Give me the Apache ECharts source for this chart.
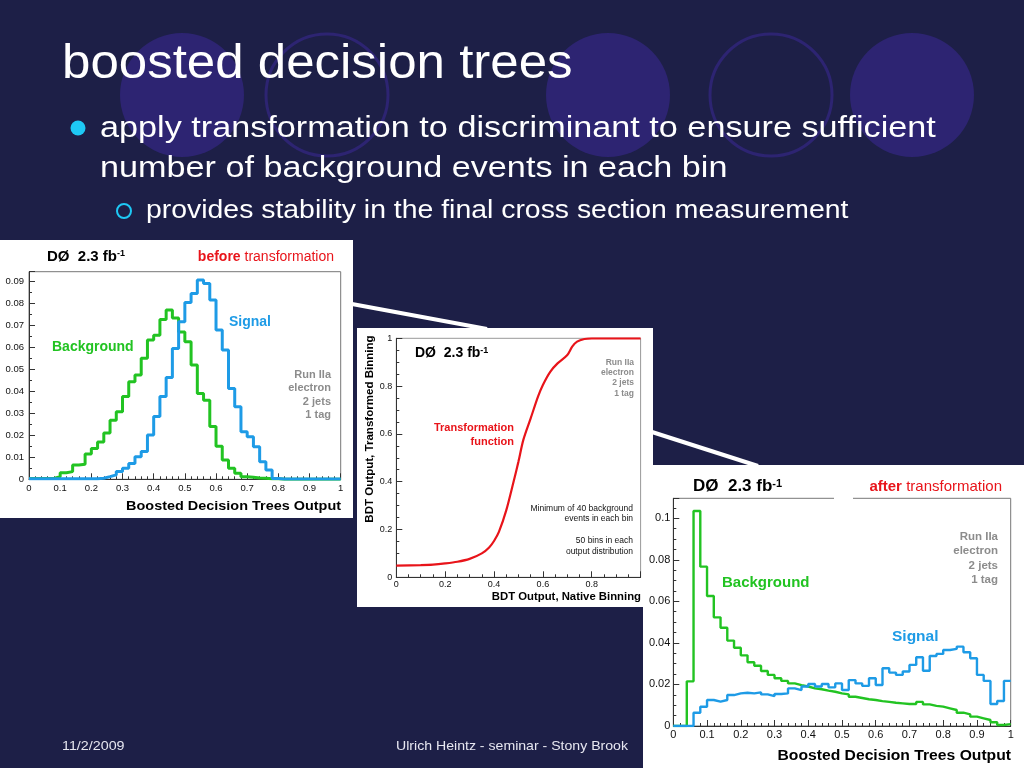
<!DOCTYPE html>
<html><head><meta charset="utf-8">
<script src="https://cdn.jsdelivr.net/npm/echarts/dist/echarts.min.js"></script>
<style>html,body{margin:0;padding:0;background:#1d1f47}#c{width:1024px;height:768px}</style>
</head><body><div id="c"></div><script>
// ---------- data ----------
const binWidth = 0.02;
const beforeBackground = [0.0004,0.0004,0.0004,0.0004,0.0012,0.003,0.0035,0.0065,0.0068,0.0115,
  0.014,0.017,0.021,0.0268,0.0307,0.0376,0.0444,0.0474,0.055,0.0633,
  0.0655,0.0727,0.077,0.0733,0.067,0.0625,0.052,0.039,0.036,0.024,
  0.015,0.0088,0.005,0.0027,0.0012,0.0009,0.0006,0.0005,0.0003,0.0002,
  0,0,0,0,0,0,0,0,0,0];
const beforeSignal = [0.0003,0.0003,0.0003,0.0003,0.0003,0.0003,0.0003,0.0003,0.0003,0.0003,
  0.0003,0.0005,0.0012,0.002,0.0035,0.005,0.0072,0.0103,0.0126,0.0201,
  0.0285,0.0376,0.0463,0.0595,0.0716,0.0804,0.0845,0.0906,0.089,0.0815,
  0.0679,0.0588,0.0413,0.033,0.0216,0.0194,0.0148,0.008,0.0042,0.0004,
  0.0001,0.0001,0.0001,0.0001,0.0001,0.0001,0.0001,0.0001,0.0001,0.0001];
const afterBackground = [0,0,0.0215,0.1035,0.0767,0.0626,0.0523,0.0473,0.0411,0.0377,
  0.034,0.0307,0.029,0.0265,0.0246,0.023,0.0217,0.0205,0.0197,0.019,
  0.0181,0.0177,0.017,0.0165,0.0157,0.0152,0.0141,0.0135,0.0129,0.0125,
  0.012,0.0116,0.0112,0.0109,0.0106,0.0106,0.0116,0.0104,0.0097,0.0093,
  0.0085,0.0077,0.0064,0.0056,0.0045,0.0037,0.0029,0.0018,0.0005,0.0009];
const afterSignal = [0,0,0,0.0064,0.0093,0.0125,0.0117,0.0125,0.0149,0.0157,
  0.016,0.0157,0.0162,0.0152,0.0144,0.0154,0.0157,0.0181,0.0173,0.019,
  0.0202,0.019,0.0202,0.0186,0.0205,0.0173,0.0221,0.0205,0.0193,0.023,
  0.0197,0.0278,0.0257,0.0246,0.0262,0.0294,0.0331,0.0266,0.0337,0.0347,
  0.0366,0.0371,0.0382,0.0355,0.0326,0.0246,0.0217,0.0106,0.012,0.0217];
const transformX = [0,0.1,0.15,0.2,0.25,0.3,0.35,0.38,0.4,0.42,0.45,0.48,0.5,0.52,0.55,0.58,0.6,0.63,0.66,0.7,0.72,0.74,0.77,0.8,0.9,1.0];
const transformY = [0.049,0.051,0.053,0.058,0.065,0.077,0.1,0.125,0.152,0.19,0.28,0.4,0.484,0.575,0.665,0.756,0.805,0.86,0.895,0.93,0.965,0.986,0.997,1.0,1.0,1.0];
const runInfo = ['Run IIa','electron','2 jets','1 tag'];
const bullets = ['apply transformation to discriminant to ensure sufficient','number of background events in each bin'];
const subBullet = 'provides stability in the final cross section measurement';

// ---------- helpers ----------
const GREEN = '#22c322', BLUE = '#1e9be6', RED = '#e8141a', GRAY = '#8c8c8c';
const FF = '"Liberation Sans", Arial, Helvetica, sans-serif';
function hist(values){
  const pts = values.map((v,i)=>[i*binWidth, v]);
  pts.push([values.length*binWidth, values[values.length-1]]);
  return pts;
}
function txt(x,y,text,size,color,opt){
  opt = opt||{};
  return {type:'text', x:x, y:y, z:100, rotation: opt.rotation||0, scaleX: opt.sx||1, silent:true,
    style:{text:text, fill:color, font:(opt.bold?'bold ':'')+size+'px '+FF,
      textAlign:opt.align||'left', textVerticalAlign:'middle'}};
}
function richDO(x,y,size){
  return {type:'text', x:x, y:y, z:100, silent:true,
    style:{text:'{a|DØ  2.3 fb}{s|-1}', textAlign:'left', textVerticalAlign:'middle',
      rich:{a:{font:'bold '+size+'px '+FF, fill:'#000'}, s:{font:'bold '+Math.round(size*0.62)+'px '+FF, fill:'#000', verticalAlign:'top'}}}};
}
function richTrans(x,y,size,word){
  return {type:'text', x:x, y:y, z:100, silent:true,
    style:{text:'{b|'+word+'}{n| transformation}', textAlign:'right', textVerticalAlign:'middle',
      rich:{b:{font:'bold '+size+'px '+FF, fill:RED}, n:{font:size+'px '+FF, fill:RED}}}};
}
function axisCommon(fs, margin, interval, max, split, showMax){
  return {type:'value', min:0, max:max, interval:interval,
    axisLine:{show:true, onZero:false, lineStyle:{color:'#333', width:1}},
    axisTick:{show:true, inside:true, length:6, lineStyle:{color:'#333'}},
    minorTick:{show:true, splitNumber:split, length:3, lineStyle:{color:'#333'}},
    axisLabel:{fontSize:fs, color:'#111', margin:margin, fontFamily:FF, showMaxLabel:showMax, showMinLabel:true},
    splitLine:{show:false}, minorSplitLine:{show:false}};
}

// ---------- graphics ----------
const g = [];
g.push({type:'rect', shape:{x:0,y:0,width:1024,height:768}, style:{fill:'#1d1f47'}, z:-20, silent:true});
[[182,95],[608,95],[912,95]].forEach(c=>g.push({type:'circle', shape:{cx:c[0],cy:c[1],r:62}, style:{fill:'#2d2472'}, z:-19, silent:true}));
[[327,95],[771,95]].forEach(c=>g.push({type:'circle', shape:{cx:c[0],cy:c[1],r:61}, style:{fill:'none', stroke:'#2d2472', lineWidth:3}, z:-19, silent:true}));
g.push(txt(62,65,'boosted decision trees',48,'#ffffff',{sx:1.063}));
g.push({type:'circle', shape:{cx:78,cy:128,r:7.5}, style:{fill:'#1ec8f5'}, z:100, silent:true});
g.push(txt(100,128.5,bullets[0],30,'#ffffff',{sx:1.14}));
g.push(txt(100,168.5,bullets[1],30,'#ffffff',{sx:1.14}));
g.push({type:'circle', shape:{cx:124,cy:211,r:7}, style:{fill:'none', stroke:'#1ec8f5', lineWidth:2}, z:100, silent:true});
g.push(txt(146,211,subBullet,25,'#ffffff',{sx:1.136}));
g.push(txt(62,746,'11/2/2009',13,'#e6e6f0',{sx:1.1}));
g.push(txt(396,746,'Ulrich Heintz - seminar - Stony Brook',13,'#e6e6f0',{sx:1.085}));
// panels
g.push({type:'rect', shape:{x:0,y:240,width:353,height:278}, style:{fill:'#ffffff'}, z:-10, silent:true});
g.push({type:'rect', shape:{x:357,y:328,width:296,height:279}, style:{fill:'#ffffff'}, z:-10, silent:true});
g.push({type:'rect', shape:{x:643,y:465,width:381,height:303}, style:{fill:'#ffffff'}, z:-9, silent:true});
g.push({type:'line', shape:{x1:352,y1:304,x2:487,y2:329}, style:{stroke:'#ffffff', lineWidth:4}, z:-8, silent:true});
g.push({type:'line', shape:{x1:652,y1:432,x2:758,y2:466}, style:{stroke:'#ffffff', lineWidth:4}, z:-8, silent:true});
// left chart texts
g.push(richDO(47,257,15));
g.push(richTrans(334,257,14,'before'));
g.push(txt(229,321.7,'Signal',14,BLUE,{bold:true}));
g.push(txt(52,346.7,'Background',14,GREEN,{bold:true}));
runInfo.forEach((t,i)=>g.push(txt(331,375+i*13.4,t,11,GRAY,{bold:true,align:'right'})));
g.push(txt(341,506.7,'Boosted Decision Trees Output',13,'#000',{bold:true,align:'right',sx:1.11}));
// middle chart texts
g.push(txt(370,429,'BDT Output, Transformed Binning',10.5,'#000',{bold:true,align:'center',rotation:Math.PI/2,sx:1.1}));
g.push(richDO(415,353,14));
runInfo.forEach((t,i)=>g.push(txt(634,362.7+i*10.2,t,8.5,GRAY,{bold:true,align:'right'})));
g.push(txt(514,427.7,'Transformation',11,RED,{bold:true,align:'right'}));
g.push(txt(514,441.7,'function',11,RED,{bold:true,align:'right'}));
g.push(txt(633,508.3,'Minimum of 40 background',8.5,'#111',{align:'right'}));
g.push(txt(633,518.5,'events in each bin',8.5,'#111',{align:'right'}));
g.push(txt(633,540.7,'50 bins in each',8.5,'#111',{align:'right'}));
g.push(txt(633,551.7,'output distribution',8.5,'#111',{align:'right'}));
g.push(txt(641,596.7,'BDT Output, Native Binning',11,'#000',{bold:true,align:'right',sx:1.03}));
// right chart texts
g.push(richDO(693,486.7,17));
g.push(richTrans(1002,486.7,15,'after'));
runInfo.forEach((t,i)=>g.push(txt(998,536.7+i*14.4,t,11.5,GRAY,{bold:true,align:'right'})));
g.push(txt(722,583.3,'Background',15,GREEN,{bold:true}));
g.push(txt(892,636.7,'Signal',15.5,BLUE,{bold:true}));
g.push(txt(1011,756,'Boosted Decision Trees Output',14,'#000',{bold:true,align:'right',sx:1.12}));
g.push({type:'rect', shape:{x:834,y:495,width:19,height:6}, style:{fill:'#ffffff'}, z:50, silent:true});

// ---------- chart ----------
const chart = echarts.init(document.getElementById('c'), null, {renderer:'canvas'});
const gridBase = {show:true, borderColor:'#777', borderWidth:1, containLabel:false, outerBoundsMode:'none', backgroundColor:'transparent'};
const option = {
  animation:false,
  backgroundColor:'transparent',
  graphic:{elements:g},
  grid:[
    Object.assign({left:29, top:271.7, width:311.7, height:207.6}, gridBase),
    Object.assign({left:396.3, top:338.3, width:244.3, height:239}, gridBase, {borderColor:'#999'}),
    Object.assign({left:673.3, top:498.3, width:337.4, height:227.7}, gridBase)
  ],
  xAxis:[
    Object.assign(axisCommon(9.5,4,0.1,1,5,true),{gridIndex:0}),
    Object.assign(axisCommon(9,3,0.2,1,4,false),{gridIndex:1}),
    Object.assign(axisCommon(11,3,0.1,1,5,true),{gridIndex:2})
  ],
  yAxis:[
    Object.assign(axisCommon(9.5,5,0.01,0.0944,2,false),{gridIndex:0}),
    Object.assign(axisCommon(9,4,0.2,1,4,true),{gridIndex:1}),
    Object.assign(axisCommon(11,3,0.02,0.1096,4,false),{gridIndex:2})
  ],
  series:[
    {type:'line', xAxisIndex:0, yAxisIndex:0, step:'end', symbol:'none', data:hist(beforeBackground), lineStyle:{color:GREEN,width:3}, z:3},
    {type:'line', xAxisIndex:0, yAxisIndex:0, step:'end', symbol:'none', data:hist(beforeSignal), lineStyle:{color:BLUE,width:3}, z:4},
    {type:'line', xAxisIndex:1, yAxisIndex:1, smooth:0.3, symbol:'none', data:transformX.map((x,i)=>[x,transformY[i]]), lineStyle:{color:RED,width:2.2}, z:3},
    {type:'line', xAxisIndex:2, yAxisIndex:2, step:'end', symbol:'none', data:hist(afterBackground), lineStyle:{color:GREEN,width:2.4}, z:3},
    {type:'line', xAxisIndex:2, yAxisIndex:2, step:'end', symbol:'none', data:hist(afterSignal), lineStyle:{color:BLUE,width:2.4}, z:4}
  ]
};
chart.setOption(option);
</script></body></html>
